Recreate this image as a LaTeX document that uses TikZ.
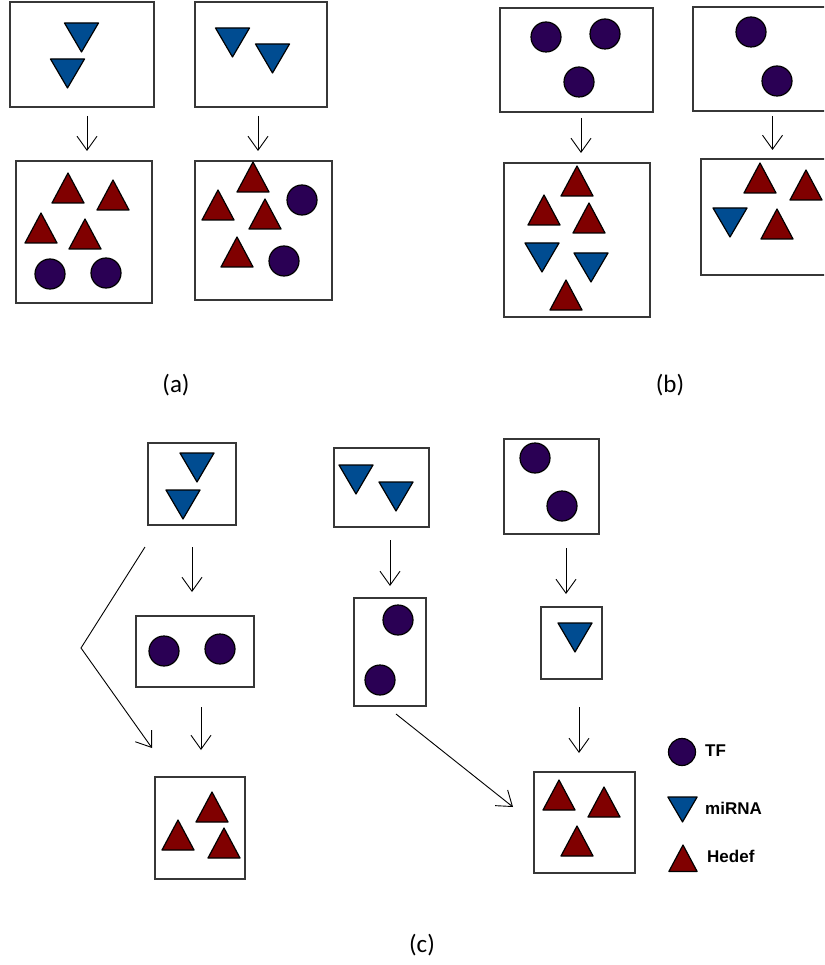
\documentclass[tikz,border=0pt]{standalone}
\usepackage{fontspec}
\setmainfont{Carlito}
\newfontfamily\legendfont{Liberation Sans}
\usetikzlibrary{arrows.meta,calc}
\definecolor{tfcol}{RGB}{42,0,84}
\definecolor{micol}{RGB}{0,76,145}
\definecolor{hcol}{RGB}{128,0,0}
\definecolor{boxcol}{RGB}{55,55,55}
\newcommand\bx[5]{\node[box,minimum width={(#4)-(#2)},minimum height={(#5)-(#3)}] (#1) at ({((#2)+(#4))/2},{((#3)+(#5))/2}) {};}
\begin{document}
\begin{tikzpicture}[x=1pt,y=-1pt,
  box/.style={draw=boxcol,line width=1.6pt,fill=white,inner sep=0pt,outer sep=0pt},
  shp/.style={draw=black,line width=1.2pt,line join=round},
  arr/.style={line width=0.9pt,-{Straight Barb[length=14pt,width=20pt,line width=0.9pt]}},
  uptri/.pic={\path[shp,fill=hcol] (0,0) -- (-16,30) -- (16,30) -- cycle;},
  downtri/.pic={\path[shp,fill=micol] (-17,0) -- (17,0) -- (0,29) -- cycle;},
  tf/.pic={\path[shp,fill=tfcol] (0,0) circle[radius=15];},
  lbl/.style={font=\fontsize{25}{30}\selectfont,inner sep=0pt},
  leg/.style={font=\legendfont\bfseries\fontsize{17}{20}\selectfont,inner sep=0pt,anchor=west}
]
\useasboundingbox[fill=white] (0,0) rectangle (824,965);
\clip (0,0) rectangle (824,965);

% (a)
\bx{a1}{10}{2}{154}{107}
\bx{a2}{195}{2}{327}{107}
\bx{a3}{16}{161}{152}{303}
\bx{a4}{195}{161}{332}{300}
\pic at (81.5,23) {downtri};
\pic at (67.5,59) {downtri};
\pic at (232.5,28) {downtri};
\pic at (272.5,44) {downtri};
\pic at (68,173) {uptri};
\pic at (113,180) {uptri};
\pic at (41,213) {uptri};
\pic at (85,219) {uptri};
\pic at (50,274) {tf};
\pic at (106,273) {tf};
\pic at (253,162) {uptri};
\pic at (218,190) {uptri};
\pic at (265,199) {uptri};
\pic at (237,237) {uptri};
\pic at (302,200) {tf};
\pic at (284,261) {tf};
\draw[arr] ($(a1.south)+(5,9)$) -- ($(a3.north)+(3,-10)$);
\draw[arr] ($(a2.south)+(-3,9)$) -- ($(a4.north)+(-5.5,-10)$);

% (b)
\bx{b1}{500}{8}{653}{112}
\bx{b2}{693}{7}{840}{111}
\bx{b3}{504}{163}{650}{317}
\bx{b4}{701}{159}{840}{275}
\pic at (546,37) {tf};
\pic at (605,34) {tf};
\pic at (579,82) {tf};
\pic at (751,32) {tf};
\pic at (777,81) {tf};
\pic at (577,166) {uptri};
\pic at (544,195) {uptri};
\pic at (589,203) {uptri};
\pic at (566,280) {uptri};
\pic at (542,243) {downtri};
\pic at (591,253) {downtri};
\pic at (760,163) {uptri};
\pic at (806,170) {uptri};
\pic at (777,209) {uptri};
\pic at (730,208) {downtri};
\draw[arr] ($(b1.south)+(4.5,6)$) -- ($(b3.north)+(4,-10)$);
\draw[arr] ($(b2.south)+(6,5)$) -- ($(b4.north)+(2,-9)$);

% (c)
\bx{c1}{148}{443}{236}{525}
\bx{c2}{334}{448}{429}{527}
\bx{c3}{136}{616}{254}{687}
\bx{c4}{155}{777}{245}{879}
\bx{c5}{354}{598}{426}{706}
\bx{c6}{504}{439}{599}{534}
\bx{c7}{541}{607}{602}{679}
\bx{c8}{534}{772}{635}{873}
\pic at (197,453) {downtri};
\pic at (183,490) {downtri};
\pic at (356,465) {downtri};
\pic at (396,482) {downtri};
\pic at (164,651) {tf};
\pic at (220,649) {tf};
\pic at (212,792) {uptri};
\pic at (178,820) {uptri};
\pic at (224,828) {uptri};
\pic at (398,620) {tf};
\pic at (380,680) {tf};
\pic at (535,458) {tf};
\pic at (562,506) {tf};
\pic at (575,623) {downtri};
\pic at (559,780) {uptri};
\pic at (604,787) {uptri};
\pic at (577,826) {uptri};
\draw[arr] ($(c1.south)+(0,22)$) -- ($(c3.north)+(-3,-24)$);
\draw[arr] ($(c3.south)+(6,20)$) -- ($(c4.north)+(1,-27)$);
\draw[arr] ($(c2.south)+(8.5,13)$) -- ($(c5.north)+(0,-12)$);
\draw[arr] ($(c6.south)+(14.5,14)$) -- ($(c7.north)+(-5.5,-13)$);
\draw[arr] ($(c7.south)+(7.5,28)$) -- ($(c8.north)+(-5.5,-19)$);
\coordinate (bend) at (81,648);
\draw[arr] ($(c1.south west)+(-3,22)$) -- (bend) -- ($(c4.north west)+(-3,-29)$);
\draw[arr] ($(c5.south)+(6,8)$) -- ($(c8.west)+(-21,-15.5)$);

% legend
\pic[scale=0.9] at (682,752) {tf};
\pic[scale=0.86] at (682.5,797) {downtri};
\pic[scale=0.88] at (683,845) {uptri};
\node[leg] (lt) at (705,751) {TF};
\node[leg] (lm) at (705,808) {miRNA};
\node[leg] (lh) at (707,856) {Hedef};

% labels
\node[lbl] (la) at (176,385) {(a)};
\node[lbl] (lb) at (670,385) {(b)};
\node[lbl] (lc) at (422,945) {(c)};
\end{tikzpicture}
\end{document}
